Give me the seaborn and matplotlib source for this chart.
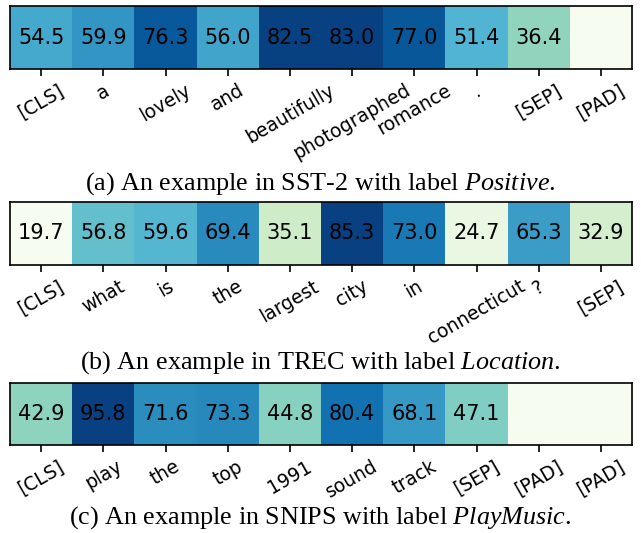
import matplotlib
matplotlib.use('Agg')
import matplotlib.pyplot as plt
import seaborn as sns
import numpy as np

# token-level scores for each example ([PAD] cells carry 0 and no label)
sst2_tokens = ['[CLS]', 'a', 'lovely', 'and', 'beautifully', 'photographed',
               'romance', '.', '[SEP]', '[PAD]']
sst2_scores = [54.5, 59.9, 76.3, 56.0, 82.5, 83.0, 77.0, 51.4, 36.4, 0.0]

trec_tokens = ['[CLS]', 'what', 'is', 'the', 'largest', 'city', 'in',
               'connecticut', '?', '[SEP]']
trec_scores = [19.7, 56.8, 59.6, 69.4, 35.1, 85.3, 73.0, 24.7, 65.3, 32.9]

snips_tokens = ['[CLS]', 'play', 'the', 'top', '1991', 'sound', 'track',
                '[SEP]', '[PAD]', '[PAD]']
snips_scores = [42.9, 95.8, 71.6, 73.3, 44.8, 80.4, 68.1, 47.1, 0.0, 0.0]

captions = [
    (r'(a) An example in SST-2 with label ', 'Positive'),
    (r'(b) An example in TREC with label ', 'Location'),
    (r'(c) An example in SNIPS with label ', 'PlayMusic'),
]

plt.rcParams['font.family'] = ['DejaVu Sans']
plt.rcParams['mathtext.fontset'] = 'custom'
plt.rcParams['mathtext.rm'] = 'Liberation Serif'
plt.rcParams['mathtext.it'] = 'Liberation Serif:italic'

W, H = 641, 533
fig = plt.figure(figsize=(W / 100, H / 100), dpi=100)

# axes boxes in pixels: (top, bottom)
boxes = [(6, 69), (201.7, 265), (382.7, 445)]
caption_y = [184, 363, 518]

examples = [(sst2_tokens, sst2_scores), (trec_tokens, trec_scores),
            (snips_tokens, snips_scores)]

for (tokens, scores), (top, bot), cy, (cap, lab) in zip(examples, boxes, caption_y, captions):
    ax = fig.add_axes([10 / W, 1 - bot / H, 622 / W, (bot - top) / H])
    data = np.array([scores])
    annot = np.array([['' if t == '[PAD]' else f'{v:.1f}' for t, v in zip(tokens, scores)]])
    sns.heatmap(data, ax=ax, cmap='GnBu', annot=annot, fmt='', cbar=False,
                annot_kws={'fontsize': 15, 'color': 'black', 'family': 'DejaVu Sans'})
    ax.set_xticklabels(tokens, rotation=30, fontsize=13.5, family='DejaVu Sans')
    ax.set_yticks([])
    ax.tick_params(axis='x', length=5, width=1.2)
    for s in ax.spines.values():
        s.set_visible(True)
        s.set_linewidth(1.2)
    fig.text(0.5, 1 - cy / H, cap + r'$\mathit{' + lab + r'}$.', ha='center', va='center',
             fontsize=18.8, family='Liberation Serif')

fig.savefig('out.png', dpi=100)
